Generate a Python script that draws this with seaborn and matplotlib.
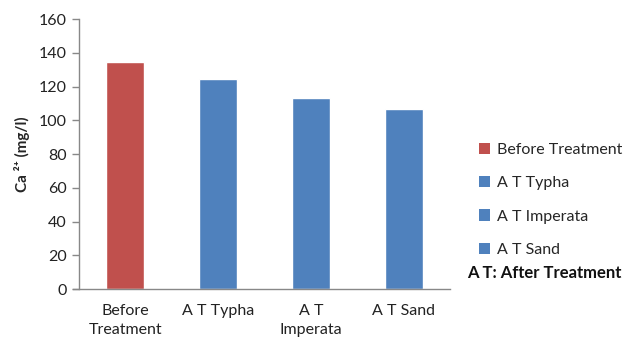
import matplotlib
matplotlib.use("Agg")
import matplotlib.pyplot as plt
import seaborn as sns
import pandas as pd
from matplotlib.patches import Patch

# --- DATA ---
categories = ["Before Treatment", "A T Typha", "A T Imperata", "A T Sand"]
tick_labels = ["Before\nTreatment", "A T Typha", "A T\nImperata", "A T Sand"]
ca_values = [134.5, 124.5, 113.2, 106.7]
bar_colors = ["#C0504D", "#4F81BD", "#4F81BD", "#4F81BD"]

sns.set_style("white")
plt.rcParams['font.family'] = ['Lato', 'DejaVu Sans']

df = pd.DataFrame({"group": categories, "ca": ca_values})

fig = plt.figure(figsize=(6.28, 3.43), dpi=100)
ax = fig.add_axes([0.1258, 0.1574, 0.5908, 0.7872])

sns.barplot(data=df, x="group", y="ca", hue="group", palette=bar_colors,
            width=0.41, legend=False, ax=ax, saturation=1)

ax.set_xlim(-0.5, 3.5)
ax.set_ylim(0, 160)
ax.set_yticks(range(0, 161, 20))
ax.set_xticks(range(len(categories)))
ax.set_xticklabels(tick_labels, fontsize=11.5, linespacing=1.45)
ax.tick_params(axis='x', length=0, pad=11, colors='#222222')
ax.tick_params(axis='y', length=5, width=1, color='#888888', labelsize=11.5,
               labelcolor='#222222', pad=4, left=True)
ax.set_xlabel("")
ax.set_ylabel("Ca ²⁺ (mg/l)", fontsize=11, fontweight='bold', labelpad=6)

for side in ['top', 'right']:
    ax.spines[side].set_visible(False)
for side in ['left', 'bottom']:
    ax.spines[side].set_color('#888888')
    ax.spines[side].set_linewidth(1)
ax.spines['bottom'].set_bounds(-0.565, 3.5)

handles = [Patch(facecolor=c, edgecolor='none') for c in bar_colors]
fig.legend(handles, categories, loc='upper left', bbox_to_anchor=(0.74, 0.626),
           frameon=False, fontsize=11.5, handlelength=0.7, handleheight=0.7,
           handletextpad=0.4, labelspacing=1.2)
fig.text(0.743, 0.205, "A T: After Treatment", fontsize=12, fontweight='bold',
         ha='left', va='center', color='#111111')

fig.savefig("out.png", dpi=100)
